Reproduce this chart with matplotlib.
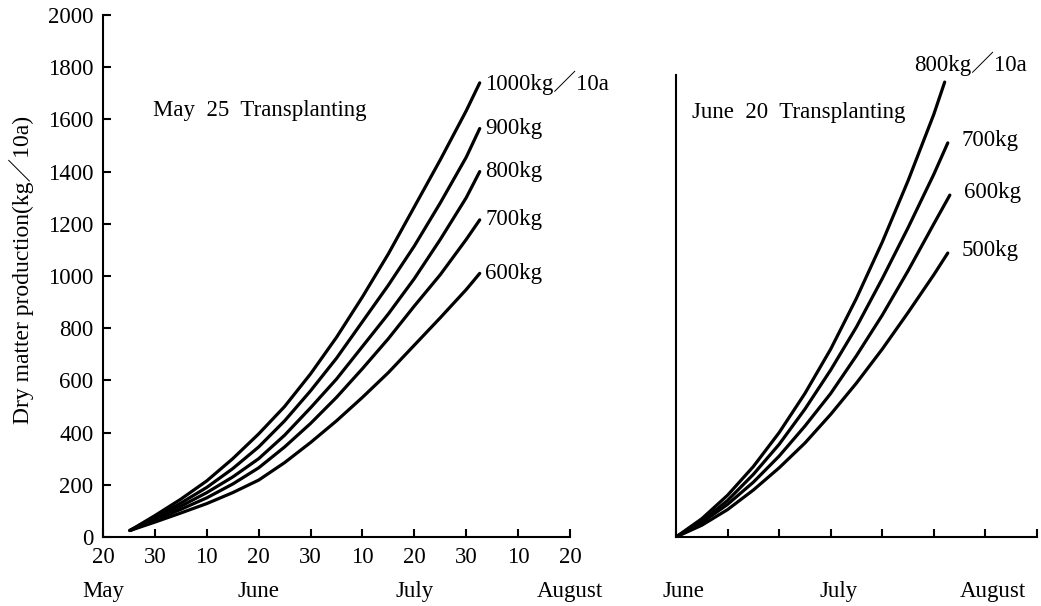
import matplotlib
matplotlib.use("Agg")
import matplotlib.pyplot as plt
from matplotlib.transforms import blended_transform_factory

# x positions are in 10-day steps from the axis origin
# left panel: 0 = May 20, 1 = May 30, 2 = Jun 10, ... 9 = Aug 20
may_x = [0.52, 1, 1.5, 2, 2.5, 3, 3.5, 4, 4.5, 5, 5.5, 6, 6.5, 7, 7.26]
may_series = {
    "1000kg／10a": [25, 82, 145, 215, 300, 395, 500, 625, 765, 920, 1085, 1265, 1445, 1633, 1740],
    "900kg": [25, 76, 130, 190, 262, 345, 445, 560, 685, 825, 965, 1115, 1280, 1455, 1565],
    "800kg": [25, 70, 118, 170, 230, 300, 390, 495, 605, 730, 855, 990, 1140, 1300, 1400],
    "700kg": [25, 64, 106, 150, 203, 265, 345, 435, 535, 645, 760, 885, 1005, 1140, 1215],
    "600kg": [25, 57, 92, 128, 170, 218, 285, 362, 445, 535, 630, 735, 840, 948, 1010],
}
may_ticks = ["20", "30", "10", "20", "30", "10", "20", "30", "10", "20"]
may_months = [(0, "May"), (3, "June"), (6, "July"), (9, "August")]

# right panel: 0 = Jun 20, 1 = Jun 30, ... 7 = Aug 30
june_x = [0, 0.5, 1, 1.5, 2, 2.5, 3, 3.5, 4, 4.5, 5]
june_series = {
    "800kg／10a": (5.21, [0, 70, 160, 270, 400, 550, 720, 915, 1130, 1365, 1620, 1743]),
    "700kg": (5.27, [0, 60, 140, 240, 355, 490, 640, 805, 990, 1185, 1390, 1510]),
    "600kg": (5.31, [0, 55, 125, 210, 310, 425, 550, 695, 850, 1020, 1200, 1310]),
    "500kg": (5.27, [0, 45, 105, 180, 265, 360, 470, 590, 720, 860, 1005, 1088]),
}
june_months = [(0, "June"), (3, "July"), (6, "August")]

plt.rcParams["font.family"] = ["Liberation Serif", "Noto Sans CJK JP"]
plt.rcParams["font.size"] = 16.5

W, H = 1041, 606
fig = plt.figure(figsize=(W / 100, H / 100), dpi=100)

ax_may = fig.add_axes([103 / W, 1 - 537 / H, 467 / W, 522 / H])
ax_jun = fig.add_axes([676 / W, 1 - 537 / H, 361 / W, 522 / H])

for ax in (ax_may, ax_jun):
    ax.set_ylim(0, 2000)
    ax.spines["top"].set_visible(False)
    ax.spines["right"].set_visible(False)
    for s in ("left", "bottom"):
        ax.spines[s].set_linewidth(1.5)
    ax.tick_params(direction="in", length=6, width=1.5, pad=7)
    ax.set_facecolor("none")

# left panel
ax_may.set_xlim(0, 9)
ax_may.set_xticks(range(10))
ax_may.set_xticklabels(may_ticks)
ax_may.set_yticks(range(0, 2001, 200))
for name, vals in may_series.items():
    ax_may.plot(may_x, vals, color="black", lw=2.3, solid_capstyle="round")
    ax_may.annotate(name, (may_x[-1], vals[-1]), xytext=(4, 0),
                    textcoords="offset points", va="center", ha="left")
ax_may.text(0.107, 0.818, "May  25  Transplanting", transform=ax_may.transAxes,
            va="center", ha="left")
tr = blended_transform_factory(ax_may.transData, ax_may.transAxes)
for pos, m in may_months:
    ax_may.text(pos, -0.105, m, transform=tr, ha="center", va="center")

# right panel
ax_jun.set_xlim(0, 7)
ax_jun.set_xticks(range(8))
ax_jun.set_xticklabels([])
ax_jun.set_yticks([])
ax_jun.spines["left"].set_bounds(0, 1770)
for i, (name, (x_end, vals)) in enumerate(june_series.items()):
    xs = june_x + [x_end]
    ax_jun.plot(xs, vals, color="black", lw=2.3, solid_capstyle="round")
    off = (-22, 13) if i == 0 else (10, 2)
    ax_jun.annotate(name, (xs[-1], vals[-1]), xytext=off,
                    textcoords="offset points", va="center", ha="left")
ax_jun.text(0.044, 0.814, "June  20  Transplanting", transform=ax_jun.transAxes,
            va="center", ha="left")
tr = blended_transform_factory(ax_jun.transData, ax_jun.transAxes)
for pos, m in june_months:
    ax_jun.text(pos + 0.15, -0.105, m, transform=tr, ha="center", va="center")

fig.text(22 / W, 1 - 270 / H, "Dry matter production(kg／10a)", rotation=90,
         ha="center", va="center", fontsize=17)

fig.savefig("out.png", dpi=100)
